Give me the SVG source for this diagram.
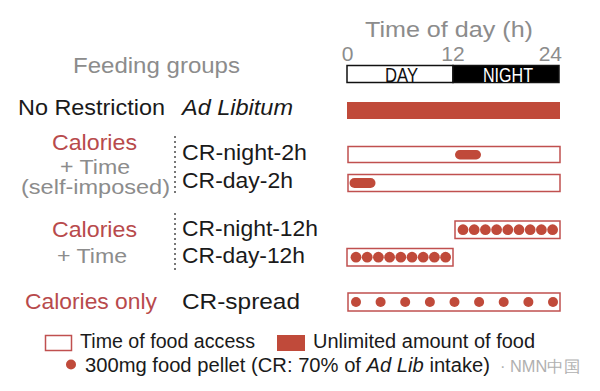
<svg xmlns="http://www.w3.org/2000/svg" width="600" height="391" viewBox="0 0 600 391">
<style>
text{font-family:"Liberation Sans",Arial,sans-serif;}
.g{fill:#8c8c8c;}
.k{fill:#1a1a1a;}
.r{fill:#b84a4c;}
.lab{font-size:22px;}
.box{fill:#fff;stroke:#c0504f;stroke-width:1.5;}
.fill{fill:#c04a3a;}
.dot{fill:#c04a3a;}
.sep{stroke:#777;stroke-width:2;stroke-dasharray:2 3;}
</style>
<rect width="600" height="391" fill="#fff"/>
<g id="axis">
<text x="365" y="37" class="g" font-size="22" textLength="168" lengthAdjust="spacingAndGlyphs">Time of day (h)</text>
<text x="347.5" y="61" class="g" font-size="21" text-anchor="middle">0</text>
<text x="453" y="61" class="g" font-size="21" text-anchor="middle">12</text>
<text x="562" y="61" class="g" font-size="21" text-anchor="end">24</text>
<rect x="347" y="65.5" width="106" height="17" fill="#fff" stroke="#111" stroke-width="1.5"/>
<rect x="453" y="65.5" width="106" height="17" fill="#000" stroke="#111" stroke-width="1.5"/>
<text x="385" y="82" font-size="20" fill="#111" textLength="33" lengthAdjust="spacingAndGlyphs">DAY</text>
<text x="483" y="82" font-size="20" fill="#fff" textLength="50" lengthAdjust="spacingAndGlyphs">NIGHT</text>
</g>
<text x="73" y="73" class="g" font-size="22" textLength="167" lengthAdjust="spacingAndGlyphs">Feeding groups</text>
<g id="adlib">
<text x="18" y="115" class="k lab" textLength="147" lengthAdjust="spacingAndGlyphs">No Restriction</text>
<text x="182" y="115" class="k lab" font-style="italic" textLength="111" lengthAdjust="spacingAndGlyphs">Ad Libitum</text>
<rect x="347" y="102" width="213" height="17" class="fill"/>
</g>
<g id="group-self">
<text x="52" y="150" class="r lab" textLength="85" lengthAdjust="spacingAndGlyphs">Calories</text>
<text x="60" y="174" class="g" font-size="20" textLength="70" lengthAdjust="spacingAndGlyphs">+ Time</text>
<text x="21" y="194" class="g" font-size="20" textLength="149" lengthAdjust="spacingAndGlyphs">(self-imposed)</text>
</g>
<g id="cr-night-2h">
<text x="182" y="160" class="k lab" textLength="125" lengthAdjust="spacingAndGlyphs">CR-night-2h</text>
<rect x="348" y="146.5" width="212" height="16" class="box"/>
<rect x="455" y="150" width="26" height="9.5" rx="4.75" class="fill"/>
</g>
<g id="cr-day-2h">
<text x="182" y="188" class="k lab" textLength="111" lengthAdjust="spacingAndGlyphs">CR-day-2h</text>
<rect x="348" y="174.5" width="212" height="17" class="box"/>
<rect x="349.5" y="178" width="26" height="10" rx="5" class="fill"/>
</g>
<g id="group-time">
<text x="52" y="237" class="r lab" textLength="85" lengthAdjust="spacingAndGlyphs">Calories</text>
<text x="57" y="263" class="g" font-size="21" textLength="70" lengthAdjust="spacingAndGlyphs">+ Time</text>
</g>
<g id="cr-night-12h">
<text x="182" y="236" class="k lab" textLength="136" lengthAdjust="spacingAndGlyphs">CR-night-12h</text>
<rect x="455" y="221" width="105" height="17.5" class="box"/>
<g class="dot">
<circle cx="463" cy="229.7" r="5.4"/><circle cx="474.2" cy="229.7" r="5.4"/><circle cx="485.4" cy="229.7" r="5.4"/><circle cx="496.6" cy="229.7" r="5.4"/><circle cx="507.8" cy="229.7" r="5.4"/><circle cx="519" cy="229.7" r="5.4"/><circle cx="530.2" cy="229.7" r="5.4"/><circle cx="541.4" cy="229.7" r="5.4"/><circle cx="552.6" cy="229.7" r="5.4"/>
</g>
</g>
<g id="cr-day-12h">
<text x="182" y="263" class="k lab" textLength="123" lengthAdjust="spacingAndGlyphs">CR-day-12h</text>
<rect x="347" y="248.5" width="106" height="17.5" class="box"/>
<g class="dot">
<circle cx="356" cy="257.2" r="5.4"/><circle cx="367.2" cy="257.2" r="5.4"/><circle cx="378.4" cy="257.2" r="5.4"/><circle cx="389.6" cy="257.2" r="5.4"/><circle cx="400.8" cy="257.2" r="5.4"/><circle cx="412" cy="257.2" r="5.4"/><circle cx="423.2" cy="257.2" r="5.4"/><circle cx="434.4" cy="257.2" r="5.4"/><circle cx="445.6" cy="257.2" r="5.4"/>
</g>
</g>
<g id="cr-spread">
<text x="25" y="309" class="r lab" textLength="132" lengthAdjust="spacingAndGlyphs">Calories only</text>
<text x="182" y="309" class="k lab" textLength="118" lengthAdjust="spacingAndGlyphs">CR-spread</text>
<rect x="348" y="293" width="212" height="18" class="box"/>
<g class="dot">
<circle cx="356" cy="302" r="5"/><circle cx="380.6" cy="302" r="5"/><circle cx="405.2" cy="302" r="5"/><circle cx="429.9" cy="302" r="5"/><circle cx="454.5" cy="302" r="5"/><circle cx="479.1" cy="302" r="5"/><circle cx="503.7" cy="302" r="5"/><circle cx="528.4" cy="302" r="5"/><circle cx="553" cy="302" r="5"/>
</g>
</g>
<g id="connectors">
<line x1="175" y1="136" x2="175" y2="196" class="sep"/>
<line x1="175" y1="213" x2="175" y2="270" class="sep"/>
</g>
<g id="legend">
<rect x="45.5" y="335.5" width="26" height="15" class="box"/>
<text x="80" y="348" class="k" font-size="20" textLength="175" lengthAdjust="spacingAndGlyphs">Time of food access</text>
<rect x="277" y="335" width="28" height="16" class="fill"/>
<text x="313" y="348" class="k" font-size="20" textLength="222" lengthAdjust="spacingAndGlyphs">Unlimited amount of food</text>
<circle cx="71" cy="364.5" r="5" class="dot"/>
<text x="85" y="372" class="k" font-size="20" textLength="405" lengthAdjust="spacingAndGlyphs">300mg food pellet (CR: 70% of <tspan font-style="italic">Ad Lib</tspan> intake)</text>
<text x="500" y="372" fill="#b0b0b0" font-size="16" textLength="80" lengthAdjust="spacingAndGlyphs">· NMN中国</text>
</g>
</svg>
